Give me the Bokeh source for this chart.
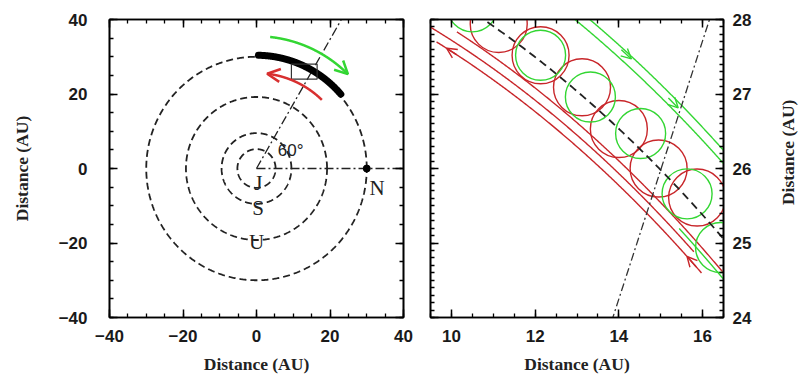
import numpy as np
from bokeh.plotting import figure
from bokeh.layouts import row
from bokeh.models import LinearAxis, SingleIntervalTicker, Arrow, OpenHead
from bokeh.embed import file_html
from bokeh.resources import INLINE
from bokeh.core.properties import value

# ---------------- data ----------------
planet_names = ["J", "S", "U", "N"]
orbit_radius_au = [5.2, 9.5, 19.2, 30.0]
planet_label_x = [0.5, 0.4, 0.0, 32.8]
planet_label_y = [-4.0, -10.5, -19.8, -5.3]
neptune_x = [30.0]
neptune_y = [0.0]
l4_angle_deg = 60.0
angle_label = ["60°"]
angle_label_x = [9.3]
angle_label_y = [4.7]

tadpole_r = 30.4
tadpole_theta = [41.0, 89.0]
green_arrow_r = 35.5
green_arrow_theta = [84.0, 45.5]   # tail -> head
red_arrow_r = 25.6
red_arrow_theta = [46.0, 83.5]     # tail -> head

zoom_box_x = [9.5, 16.5]
zoom_box_y = [24.0, 28.0]

# right panel: epicycle loops (centres) and guiding tracks
red_loop_x = [11.13, 12.13, 13.12, 14.00, 14.95, 15.87]
red_loop_y = [27.94, 27.52, 27.09, 26.53, 26.00, 25.61]
green_loop_x = [10.50, 12.13, 13.32, 14.52, 15.63, 16.43]
green_loop_y = [28.17, 27.52, 26.96, 26.47, 25.66, 24.94]
red_track_r = [29.33, 29.47, 29.62]
red_track_theta = [(57.0, 70.8), (57.6, 71.3), (56.0, 70.0)]
green_track_r = [31.0, 30.85, 29.55]
green_track_theta = [(57.5, 64.8), (57.5, 65.5), (55.5, 58.5)]
red_head_r = [29.33, 29.33]
red_head_theta = [(69.8, 70.3), (57.3, 57.8)]
green_head_r = [30.97, 30.93]
green_head_theta = [(63.0, 62.5), (60.6, 60.1)]

axis_title = "Distance (AU)"

RED = "#c8262a"
RED_L = "#d83030"
GREEN = "#33d633"
TICK_FONT = "Liberation Sans"
LABEL_FONT = "Liberation Serif"
FIG_H = 377


def arc(r, t0, t1, n=300):
    t = np.radians(np.linspace(t0, t1, n))
    return r * np.cos(t), r * np.sin(t)


def pol(r, t):
    return r * np.cos(np.radians(t)), r * np.sin(np.radians(t))


def style_axis(ax, interval, minor, labels=True):
    ax.ticker = SingleIntervalTicker(interval=interval, num_minor_ticks=minor)
    ax.axis_line_width = 1.6
    ax.axis_line_color = "black"
    ax.major_tick_in = 8
    ax.major_tick_out = 0
    ax.minor_tick_in = 4
    ax.minor_tick_out = 0
    ax.major_tick_line_width = 1.5
    ax.minor_tick_line_width = 1.3
    ax.major_tick_line_color = "black"
    ax.minor_tick_line_color = "black"
    if labels:
        ax.major_label_text_font = TICK_FONT
        ax.major_label_text_font_size = "17px"
        ax.major_label_text_font_style = "bold"
        ax.major_label_text_color = "#1a1a1a"
        ax.axis_label_text_font = LABEL_FONT
        ax.axis_label_text_font_size = "17.5px"
        ax.axis_label_text_font_style = "bold"
        ax.axis_label_text_color = "#222222"
    else:
        ax.major_label_text_font_size = "0px"
        ax.major_label_text_color = None
        ax.major_label_standoff = 0


def add_arrow(p, r, t0, t1, color, size, width):
    xs, ys = pol(r, t0)
    xe, ye = pol(r, t1)
    p.add_layout(Arrow(end=OpenHead(size=size, line_color=color, line_width=width),
                       x_start=xs, y_start=ys, x_end=xe, y_end=ye,
                       line_color=color, line_width=width))


# ---------------- left panel ----------------
p1 = figure(width=413, height=FIG_H, x_range=(-40, 40), y_range=(-40, 40),
            output_backend="svg", toolbar_location=None,
            min_border_left=109, min_border_right=10,
            min_border_top=19, min_border_bottom=60,
            x_axis_label=axis_title, y_axis_label=axis_title)
p1.grid.visible = False
p1.outline_line_color = "black"
p1.outline_line_width = 1.6
style_axis(p1.xaxis[0], 20, 4)
style_axis(p1.yaxis[0], 20, 4)
p1.yaxis[0].major_label_standoff = 22
p1.yaxis[0].axis_label_standoff = 24
p1.xaxis[0].major_label_standoff = 12
p1.xaxis[0].axis_label_standoff = 9
top1 = LinearAxis()
style_axis(top1, 20, 4, labels=False)
p1.add_layout(top1, "above")
right1 = LinearAxis()
style_axis(right1, 20, 4, labels=False)
p1.add_layout(right1, "right")

for r in orbit_radius_au:
    x, y = arc(r, 0, 360, 721)
    p1.line(x, y, line_color="#222222", line_width=1.8, line_dash="7 4")

# reference lines: to Neptune and to L4
p1.line([0, 45], [0, 0], line_color="#222222", line_width=1.3, line_dash="9 3 2 3")
x, y = pol(np.array([0.0, 50.0]), l4_angle_deg)
p1.line(x, y, line_color="#222222", line_width=1.3, line_dash="9 3 2 3")
p1.scatter(neptune_x, neptune_y, size=7, color="black")

# tadpole region
x, y = arc(tadpole_r, *tadpole_theta)
p1.line(x, y, line_color="black", line_width=7, line_cap="round")

# zoom box
p1.line([zoom_box_x[0], zoom_box_x[1], zoom_box_x[1], zoom_box_x[0], zoom_box_x[0]],
        [zoom_box_y[0], zoom_box_y[0], zoom_box_y[1], zoom_box_y[1], zoom_box_y[0]],
        line_color="#333333", line_width=1.2)

# direction arrows
x, y = arc(green_arrow_r, *green_arrow_theta)
p1.line(x, y, line_color=GREEN, line_width=2.5)
add_arrow(p1, green_arrow_r, green_arrow_theta[1] + 1.5, green_arrow_theta[1], GREEN, 13, 2.5)
x, y = arc(red_arrow_r, *red_arrow_theta)
p1.line(x, y, line_color=RED_L, line_width=2.5)
add_arrow(p1, red_arrow_r, red_arrow_theta[1] - 1.5, red_arrow_theta[1], RED_L, 13, 2.5)

p1.text(x=planet_label_x, y=planet_label_y, text=planet_names,
        text_font=value(LABEL_FONT), text_font_size="21px",
        text_align="center", text_baseline="middle", text_color="#222222")
p1.text(x=angle_label_x, y=angle_label_y, text=angle_label,
        text_font=value(TICK_FONT), text_font_size="17px",
        text_align="center", text_baseline="middle", text_color="#222222")

# ---------------- right panel ----------------
p2 = figure(width=355, height=FIG_H, x_range=(9.5, 16.5), y_range=(24, 28),
            output_backend="svg", toolbar_location=None, y_axis_location="right",
            min_border_left=17, min_border_right=45,
            min_border_top=19, min_border_bottom=60,
            x_axis_label=axis_title)
p2.grid.visible = False
p2.outline_line_color = "black"
p2.outline_line_width = 1.6
style_axis(p2.xaxis[0], 2, 4)
style_axis(p2.yaxis[0], 1, 10)
p2.xaxis[0].major_label_standoff = 12
p2.xaxis[0].axis_label_standoff = 9
p2.yaxis[0].major_label_standoff = 9
top2 = LinearAxis()
style_axis(top2, 2, 4, labels=False)
p2.add_layout(top2, "above")
left2 = LinearAxis()
style_axis(left2, 1, 10, labels=False)
p2.add_layout(left2, "left")

# red loops and tracks
p2.scatter(red_loop_x, red_loop_y, marker="circle", size=57, fill_color=None,
           line_color=RED, line_width=1.4)
for r, (t0, t1) in zip(red_track_r, red_track_theta):
    x, y = arc(r, t0, t1)
    p2.line(x, y, line_color=RED, line_width=1.4)
for r, (t0, t1) in zip(red_head_r, red_head_theta):
    add_arrow(p2, r, t0, t1, RED, 10, 1.4)

# green loops and tracks
p2.scatter(green_loop_x, green_loop_y, marker="circle", size=50, fill_color=None,
           line_color=GREEN, line_width=1.4)
for r, (t0, t1) in zip(green_track_r, green_track_theta):
    x, y = arc(r, t0, t1)
    p2.line(x, y, line_color=GREEN, line_width=1.4)
for r, (t0, t1) in zip(green_head_r, green_head_theta):
    add_arrow(p2, r, t0, t1, GREEN, 10, 1.4)

# Neptune orbit and L4 direction
x, y = arc(orbit_radius_au[3], 50, 75)
p2.line(x, y, line_color="#222222", line_width=1.8, line_dash="8 5")
x, y = pol(np.array([26.0, 34.0]), l4_angle_deg)
p2.line(x, y, line_color="#333333", line_width=1.3, line_dash="8 3 2 3")

# ---------------- strip holding the right-hand axis title ----------------
p3 = figure(width=36, height=FIG_H, x_range=(0, 1), y_range=(0, FIG_H),
            output_backend="svg", toolbar_location=None,
            min_border=0, outline_line_color=None)
p3.axis.visible = False
p3.grid.visible = False
p3.text(x=[0.55], y=[FIG_H - 168], text=[axis_title], angle=np.pi / 2,
        text_font=value(LABEL_FONT), text_font_size="17.5px",
        text_font_style="bold", text_color="#222222",
        text_align="center", text_baseline="middle")

layout = row(p1, p2, p3)
open("out.html", "w").write(file_html(layout, INLINE))
